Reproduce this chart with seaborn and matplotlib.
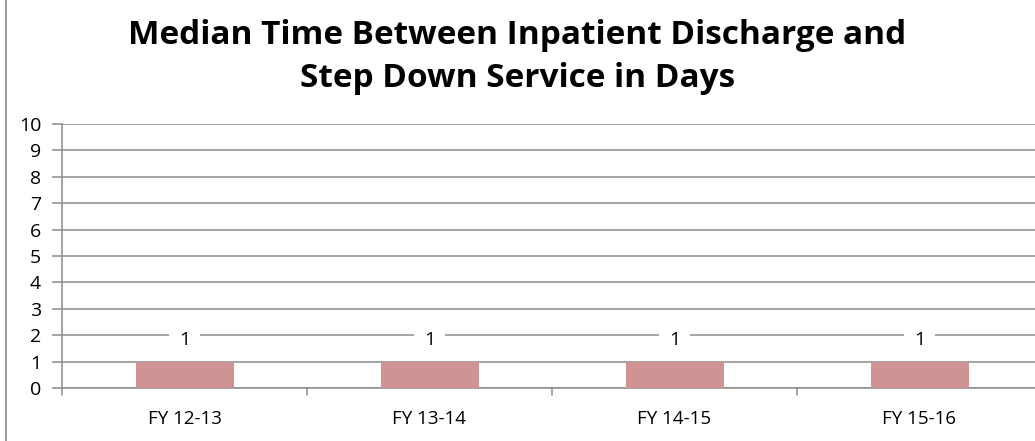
import matplotlib
matplotlib.use("Agg")
import matplotlib.pyplot as plt
from matplotlib.lines import Line2D
import seaborn as sns
import pandas as pd

categories = ["FY 12-13", "FY 13-14", "FY 14-15", "FY 15-16"]
median_days = [1, 1, 1, 1]
y_ticks = list(range(0, 11))

sns.set_theme(style="white")
plt.rcParams["font.family"] = ["Open Sans", "DejaVu Sans"]
plt.rcParams["text.color"] = "black"

df = pd.DataFrame({"period": categories, "days": median_days})

fig = plt.figure(figsize=(10.35, 4.41), dpi=100)
ax = fig.add_axes([62 / 1035, 1 - 388 / 441, 980 / 1035, 264 / 441])

sns.barplot(data=df, x="period", y="days", color="#d09393", width=0.4,
            saturation=1, linewidth=0, edgecolor="none", ax=ax, zorder=3)

ax.set_xlim(-0.5, len(categories) - 0.5)
ax.set_ylim(0, 10)
ax.set_yticks(y_ticks)
ax.set_yticklabels([str(t) for t in y_ticks], fontsize=14, color="black")
ax.yaxis.grid(True, color="#8c8c8c", linewidth=1.1, zorder=0)
ax.set_axisbelow(True)

for side in ["top", "right"]:
    ax.spines[side].set_visible(False)
for side in ["left", "bottom"]:
    ax.spines[side].set_color("#8c8c8c")
    ax.spines[side].set_linewidth(1.1)

ax.tick_params(axis="y", left=True, length=7, width=1.1, color="#8c8c8c", pad=8)
ax.tick_params(axis="x", bottom=False, labelsize=13.5, labelcolor="black", pad=10)
ax.set_xlabel("")
ax.set_ylabel("")

# category boundary ticks below the x axis
for b in range(len(categories) + 1):
    ax.plot([b - 0.5, b - 0.5], [0, -0.25], color="#8c8c8c", lw=1.1,
            clip_on=False, zorder=4)

# value labels with a white box masking the gridline
for i, v in enumerate(df["days"]):
    ax.text(i, v + 0.8, str(v), ha="center", va="center", fontsize=14,
            color="black", zorder=5,
            bbox=dict(boxstyle="square,pad=0.5", fc="white", ec="none"))

fig.text(0.5, 1 - 57 / 441, "Median Time Between Inpatient Discharge and\nStep Down Service in Days",
         ha="center", va="center", fontsize=24, fontweight="bold",
         color="black", linespacing=1.4)

# chart area outline on the left edge
fig.add_artist(Line2D([6 / 1035, 6 / 1035], [0, 1], transform=fig.transFigure,
                      color="#8c8c8c", lw=1.2))

fig.savefig("out.png", dpi=100)
